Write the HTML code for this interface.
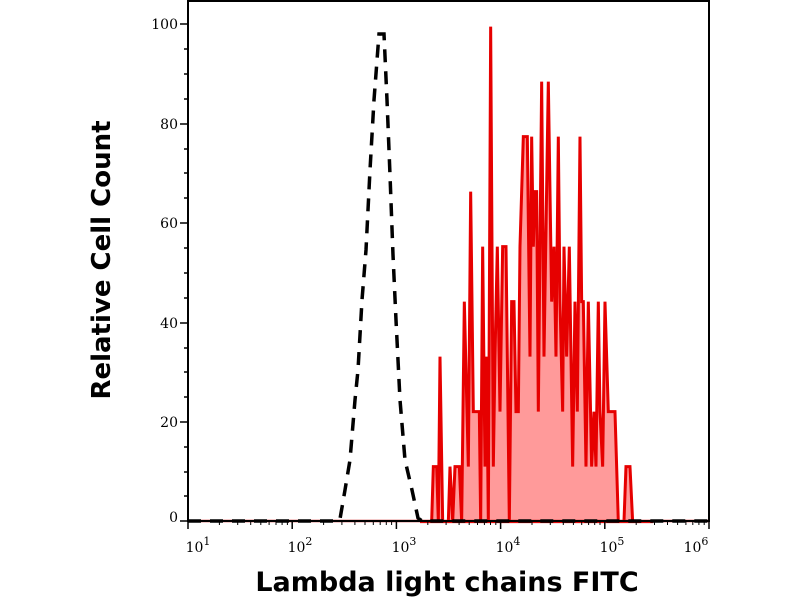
<!DOCTYPE html>
<html><head><meta charset="utf-8"><style>
html,body{margin:0;padding:0;background:#fff;}
svg{display:block;}
.tl{font-family:"DejaVu Serif","Liberation Serif",serif;font-size:14px;fill:#000;}
.ax{font-family:"DejaVu Sans","Liberation Sans",sans-serif;font-weight:bold;font-size:26px;fill:#000;}
</style></head><body>
<svg width="800" height="600" viewBox="0 0 800 600" xmlns="http://www.w3.org/2000/svg">
<rect width="800" height="600" fill="#fff"/>
<g transform="translate(420,20) scale(0.3333)">
<path fill="#ff9a9a" stroke="#e60000" stroke-width="9" stroke-linejoin="miter" d="M0,1505 L35,1505 L40,1340 L50,1340 L55,1505 L60,1010 L68,1505 L85,1505 L90,1340 L98,1505 L105,1340 L118,1340 L125,1505 L133,845 L145,1340 L152,515 L160,1175 L178,1175 L182,1505 L188,680 L195,1340 L200,1010 L205,1505 L212,20 L220,1340 L225,1010 L232,680 L240,1175 L248,680 L258,680 L268,1505 L275,845 L282,845 L288,1175 L295,1175 L300,680 L310,350 L322,350 L330,1010 L335,350 L340,680 L345,515 L350,515 L355,1175 L365,185 L372,1010 L385,185 L395,845 L402,680 L408,1010 L415,350 L420,845 L428,1175 L432,680 L440,1010 L448,680 L458,1340 L465,845 L472,1175 L480,350 L485,845 L490,845 L498,1340 L505,845 L515,1340 L522,1175 L528,1340 L535,845 L540,1175 L548,1340 L555,845 L565,1175 L575,1175 L585,1175 L595,1505 L612,1505 L618,1340 L630,1340 L638,1505 L700,1505 Z"/>
</g>
<line x1="188" y1="521" x2="709" y2="521" stroke="#cc2222" stroke-width="2.5"/>
<path fill="none" stroke="#000" stroke-width="3.5" stroke-dasharray="13 9" d="M188,521 L338,521 L340,519 L345,490 L350,460 L355,400 L358,370 L362,300 L366,250 L370,170 L374,100 L379,34 L384,34 L387,100 L390,175 L393,255 L396,320 L400,400 L405,460 L412,490 L418,518 L422,521 L709,521"/>
<rect x="188" y="1" width="521" height="520" fill="none" stroke="#000" stroke-width="2"/>
<g stroke="#000" stroke-width="1.5">
<line x1="180" y1="521" x2="188" y2="521"/><line x1="180" y1="422" x2="188" y2="422"/><line x1="180" y1="323" x2="188" y2="323"/><line x1="180" y1="223" x2="188" y2="223"/><line x1="180" y1="124" x2="188" y2="124"/><line x1="180" y1="24" x2="188" y2="24"/>
<line x1="184" y1="496" x2="188" y2="496"/><line x1="184" y1="472" x2="188" y2="472"/><line x1="184" y1="447" x2="188" y2="447"/>
<line x1="184" y1="397" x2="188" y2="397"/><line x1="184" y1="372" x2="188" y2="372"/><line x1="184" y1="348" x2="188" y2="348"/>
<line x1="184" y1="298" x2="188" y2="298"/><line x1="184" y1="273" x2="188" y2="273"/><line x1="184" y1="248" x2="188" y2="248"/>
<line x1="184" y1="198" x2="188" y2="198"/><line x1="184" y1="173" x2="188" y2="173"/><line x1="184" y1="149" x2="188" y2="149"/>
<line x1="184" y1="99" x2="188" y2="99"/><line x1="184" y1="74" x2="188" y2="74"/><line x1="184" y1="49" x2="188" y2="49"/>
</g>
<g class="tl" text-anchor="end">
<text x="178" y="522">0</text><text x="178" y="427">20</text><text x="178" y="328">40</text><text x="178" y="228">60</text><text x="178" y="129">80</text><text x="178" y="29">100</text>
</g>
<g stroke="#000" stroke-width="1.5">
<line x1="188" y1="521" x2="188" y2="529"/><line x1="292.2" y1="521" x2="292.2" y2="529"/><line x1="396.4" y1="521" x2="396.4" y2="529"/><line x1="500.6" y1="521" x2="500.6" y2="529"/><line x1="604.8" y1="521" x2="604.8" y2="529"/><line x1="709" y1="521" x2="709" y2="529"/>
</g>
<g stroke="#000" stroke-width="1">
<path d="M219.4,521v4M237.7,521v4M250.7,521v4M260.8,521v4M269.1,521v4M276.0,521v4M282.1,521v4M287.4,521v4
M323.6,521v4M341.9,521v4M354.9,521v4M365.0,521v4M373.3,521v4M380.2,521v4M386.3,521v4M391.6,521v4
M427.8,521v4M446.1,521v4M459.1,521v4M469.2,521v4M477.5,521v4M484.4,521v4M490.5,521v4M495.8,521v4
M532.0,521v4M550.3,521v4M563.3,521v4M573.4,521v4M581.7,521v4M588.6,521v4M594.7,521v4M600.0,521v4
M636.2,521v4M654.5,521v4M667.5,521v4M677.6,521v4M685.9,521v4M692.8,521v4M698.9,521v4M704.2,521v4"/>
</g>
<g class="tl" text-anchor="middle">
<text x="198" y="552">10<tspan dy="-7" font-size="11">1</tspan></text>
<text x="300" y="552">10<tspan dy="-7" font-size="11">2</tspan></text>
<text x="404" y="552">10<tspan dy="-7" font-size="11">3</tspan></text>
<text x="508" y="552">10<tspan dy="-7" font-size="11">4</tspan></text>
<text x="612" y="552">10<tspan dy="-7" font-size="11">5</tspan></text>
<text x="696" y="552">10<tspan dy="-7" font-size="11">6</tspan></text>
</g>
<text class="ax" x="447" y="591" text-anchor="middle" font-size="27" style="font-size:27px">Lambda light chains FITC</text>
<text class="ax" transform="translate(110,260) rotate(-90)" text-anchor="middle">Relative Cell Count</text>
</svg>
</body></html>
